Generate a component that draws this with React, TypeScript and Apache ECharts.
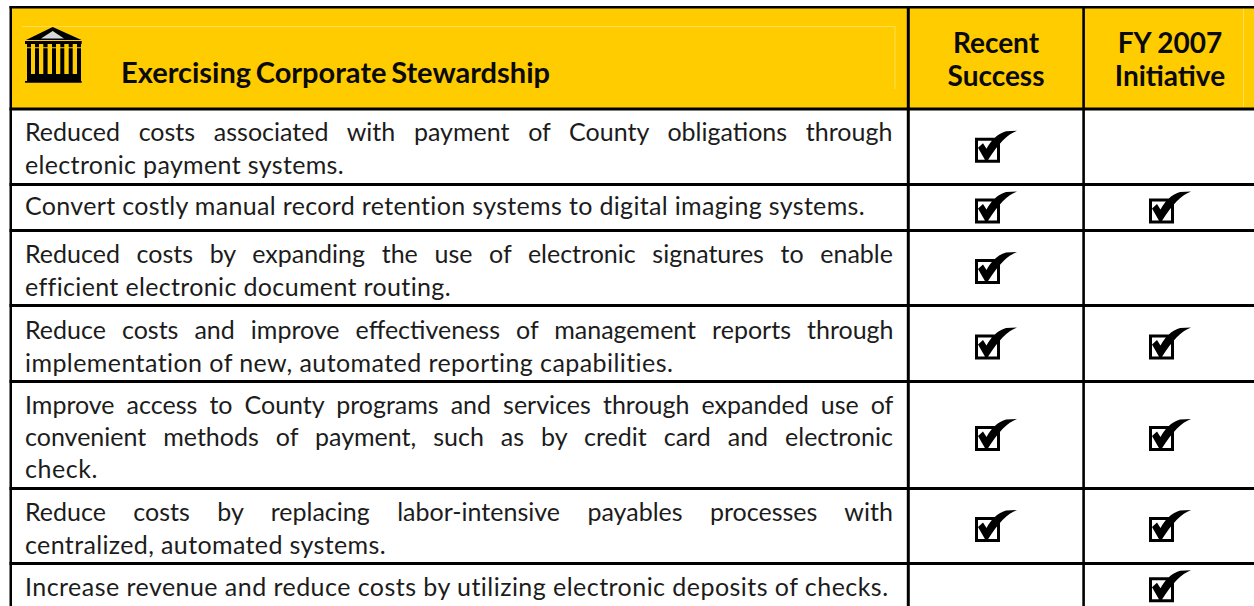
import React, { useEffect, useRef } from "react";
import * as echarts from "echarts";

const title = "Exercising Corporate Stewardship";
const columnHeads = [["Recent", "Success"], ["FY 2007", "Initiative"]];
const rowLines = [
  ["Reduced costs associated with payment of County obligations through", "electronic payment systems."],
  ["Convert costly manual record retention systems to digital imaging systems."],
  ["Reduced costs by expanding the use of electronic signatures to enable", "efficient electronic document routing."],
  ["Reduce costs and improve effectiveness of management reports through", "implementation of new, automated reporting capabilities."],
  ["Improve access to County programs and services through expanded use of", "convenient methods of payment, such as by credit card and electronic", "check."],
  ["Reduce costs by replacing labor-intensive payables processes with", "centralized, automated systems."],
  ["Increase revenue and reduce costs by utilizing electronic deposits of checks."],
];
const recentSuccess = [1, 1, 1, 1, 1, 1, 0];
const fy2007Initiative = [0, 1, 0, 1, 1, 1, 1];

// layout
const W = 1254, H = 606;
const FONT = "Lato";
const BODY_SIZE = 25, HEAD_SIZE = 28, TITLE_SIZE = 29;
const rowEdges = [109, 184.5, 230.5, 305.5, 381.5, 488.5, 563.5, 609];
const lineY = [[130.5, 163.5], [204.5], [252.5, 285.5], [328.5, 361.5], [403.5, 435.5, 467.5], [510.5, 543.5], [585.5]];
const lineEnd = [[894, 344], [866], [894, 450], [894, 675], [894, 894, 98], [894, 386], [890]];
const JUSTIFIED_END = 894;
const colX = [996, 1170];
const TEXT_X = 25;
const checkPath = "path://M0,7 L25,7 L25,32 L0,32 Z M3,10 L3,29 L22,29 L22,10 Z M3,17 L8,12.5 L11.5,18 C16,10 22,3 31,0.5 L42,0 C32,4 24,12 12.5,30 L10.5,30 Z";
const temple = [
  "M52.7,27 L81.5,40 L26,40 Z",
  "M25,41 L81.7,41 L81.7,44 L25,44 Z",
  "M27,44 L31,44 L31,74 L27,74 Z M35,44 L39,44 L39,74 L35,74 Z M43.3,44 L47.6,44 L47.6,74 L43.3,74 Z M52,44 L56,44 L56,74 L52,74 Z M60.3,44 L64.3,44 L64.3,74 L60.3,74 Z M68.7,44 L72.7,44 L72.7,74 L68.7,74 Z M77,44 L81,44 L81,74 L77,74 Z",
  "M27,74 L81,74 L81,81 L27,81 Z M25,81 L81.7,81 L81.7,82.8 L25,82.8 Z",
].join(" ");
const roofLight = "M52.7,31 L64,38.4 L41,38.4 Z";

export default function App() {
  const ref = useRef<HTMLDivElement>(null);
  useEffect(() => {
    if (!ref.current) return;
    echarts.graphic.registerShape("temple", echarts.graphic.extendPath(temple, {}) as any);
    echarts.graphic.registerShape("roofLight", echarts.graphic.extendPath(roofLight, {}) as any);
    const chart = echarts.init(ref.current, undefined, { renderer: "svg", width: W, height: H });

    const targets: { text: string; font: string; width: number; justified: boolean }[] = [];
    const rule = (x: number, y: number, w: number, h: number, fill = "#000") => ({
      type: "rect", shape: { x, y, width: w, height: h }, style: { fill }, silent: true,
    });
    const label = (text: string, x: number, y: number, size: number, weight: string, align: string, fill: string) => ({
      type: "text", x, y, silent: true,
      style: { text, fontFamily: FONT, fontSize: size, fontWeight: weight, fill, align, verticalAlign: "middle" },
    });

    const elements: any[] = [
      rule(12, 8, W - 12, 100, "#FFCC00"),
      rule(22, 26, 873, 1, "#FFDD55"),
      rule(894.5, 26, 1, 63, "#FFDD55"),
      rule(1243, 8, 1, 99, "#FFDD55"),
      rule(9.5, 6, W - 9.5, 2.5),
      rule(9.5, 6, 2.5, H - 6),
      rule(906.8, 6, 3, H - 6),
      rule(1082.3, 6, 2.6, H - 6),
      ...rowEdges.slice(0, -1).map((y) => rule(9.5, y - 1.5, W - 9.5, 3)),
      { type: "temple", x: 0, y: 0, style: { fill: "#000" }, silent: true },
      { type: "roofLight", x: 0, y: 0, style: { fill: "#d8d8d8" }, silent: true },
      rule(27, 47.3, 54, 1, "#FFCC00"),
      label(title, 121, 71.5, TITLE_SIZE, "bold", "left", "#0a0a0a"),
    ];
    targets.push({ text: title, font: `bold ${TITLE_SIZE}px ${FONT}`, width: 429, justified: true });
    columnHeads.forEach((head, c) =>
      head.forEach((t, i) => elements.push(label(t, colX[c], i === 0 ? 41.5 : 74.5, HEAD_SIZE, "bold", "center", "#0a0a0a")))
    );
    rowLines.forEach((lines, r) =>
      lines.forEach((t, i) => {
        elements.push(label(t, TEXT_X, lineY[r][i], BODY_SIZE, "normal", "left", "#1c1c1c"));
        targets.push({
          text: t, font: `${BODY_SIZE}px ${FONT}`, width: lineEnd[r][i] - TEXT_X,
          justified: lineEnd[r][i] === JUSTIFIED_END,
        });
      })
    );

    const rowCenter = (r: number) => (rowEdges[r] + rowEdges[r + 1]) / 2;
    const marks = (flags: number[], c: number) =>
      flags.flatMap((f, r) => (f ? [[colX[c], rowCenter(r)]] : []));
    const check = (name: string, data: number[][]) => ({
      name, type: "scatter", data, symbol: checkPath, symbolSize: [42, 32], silent: true,
      itemStyle: { color: "#000", opacity: 1 },
    });

    chart.setOption({
      animation: false,
      grid: { left: 0, right: 0, top: 0, bottom: 0 },
      xAxis: { type: "value", min: 0, max: W, show: false },
      yAxis: { type: "value", min: 0, max: H, inverse: true, show: false },
      graphic: { elements },
      series: [check("Recent Success", marks(recentSuccess, 0)), check("FY 2007 Initiative", marks(fy2007Initiative, 1))],
    });

    // justify lines the way the source table does; others are tracked to their measured width
    const ctx = document.createElement("canvas").getContext("2d")!;
    ref.current.querySelectorAll("text").forEach((el) => {
      const tg = targets.find((t) => t.text === el.textContent);
      if (!tg) return;
      ctx.font = tg.font;
      const extra = tg.width - ctx.measureText(tg.text).width;
      const gaps = tg.text.split(" ").length - 1;
      const node = el as SVGTextElement;
      if (tg.justified && gaps) node.style.wordSpacing = `${extra / gaps}px`;
      else node.style.letterSpacing = `${extra / tg.text.length}px`;
    });
    return () => chart.dispose();
  }, []);
  return <div ref={ref} style={{ position: "absolute", left: 0, top: 0, width: W, height: H, background: "#fff" }} />;
}
